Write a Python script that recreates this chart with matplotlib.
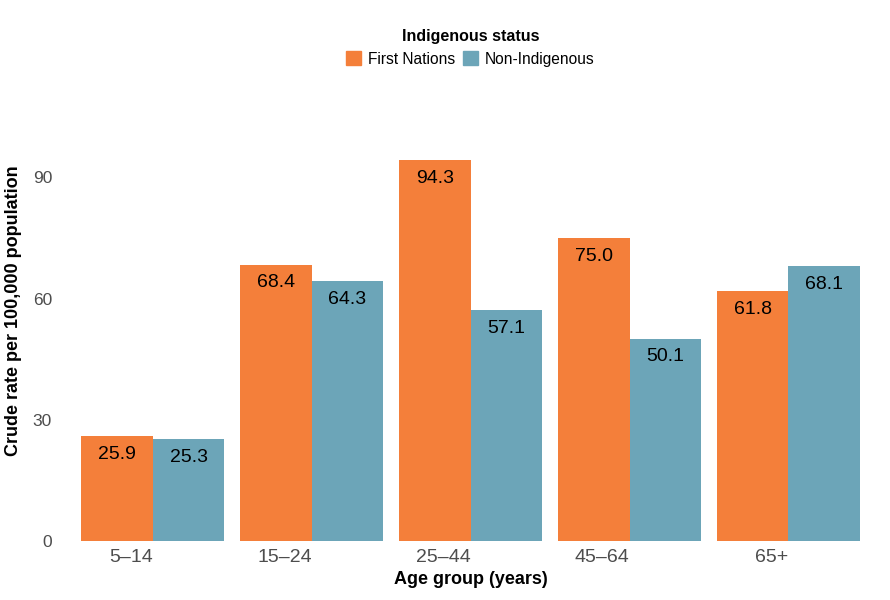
import matplotlib.pyplot as plt
import numpy as np
from matplotlib.patches import Patch

plt.rcParams['font.family'] = ['Liberation Sans', 'DejaVu Sans']

# Data
age_groups = ['5–14', '15–24', '25–44', '45–64', '65+']
first_nations = [25.9, 68.4, 94.3, 75.0, 61.8]
non_indigenous = [25.3, 64.3, 57.1, 50.1, 68.1]

orange = '#F47F3A'
blue = '#6CA5B8'

fig = plt.figure(figsize=(8.9, 6), dpi=100)
ax = fig.add_axes([0.0647, 0.0983, 0.9283, 0.6733])

x = np.arange(len(age_groups))
w = 0.45
bars1 = ax.bar(x - w / 2, first_nations, width=w, color=orange)
bars2 = ax.bar(x + w / 2, non_indigenous, width=w, color=blue)

# value labels just inside the top of each bar
for bars, vals in [(bars1, first_nations), (bars2, non_indigenous)]:
    for b, v in zip(bars, vals):
        ax.annotate(f'{v:.1f}', (b.get_x() + b.get_width() / 2, v),
                    xytext=(0, -7), textcoords='offset points',
                    ha='center', va='top', fontsize=14, color='black')

ax.set_xlim(-0.6, 4.6)
ax.set_ylim(0, 100)
ax.set_yticks([0, 30, 60, 90])
ax.set_xticks(x)
# tick labels sit right-aligned on the group centre
ax.set_xticklabels(age_groups, ha='right')
ax.tick_params(axis='both', length=0, labelcolor='#4D4D4D')
ax.tick_params(axis='x', labelsize=14, pad=6)
ax.tick_params(axis='y', labelsize=12.5, pad=4)
for s in ax.spines.values():
    s.set_visible(False)

ax.set_xlabel('Age group (years)', fontsize=13, fontweight='bold', labelpad=3)
ax.set_ylabel('Crude rate per 100,000 population', fontsize=13,
              fontweight='bold')
ax.yaxis.set_label_coords(-0.043, 0.57)

fig.text(0.5285, 1 - 37 / 600, 'Indigenous status', ha='center', va='center',
         fontsize=11.5, fontweight='bold')
handles = [Patch(color=orange, label='First Nations'),
           Patch(color=blue, label='Non-Indigenous')]
fig.legend(handles=handles, ncol=2, loc='center',
           bbox_to_anchor=(0.528, 1 - 59 / 600),
           frameon=False, fontsize=11.2,
           handlelength=1.0, handleheight=1.0, handletextpad=0.4,
           columnspacing=0.5, borderpad=0.2)

fig.savefig('out.png', dpi=100)
